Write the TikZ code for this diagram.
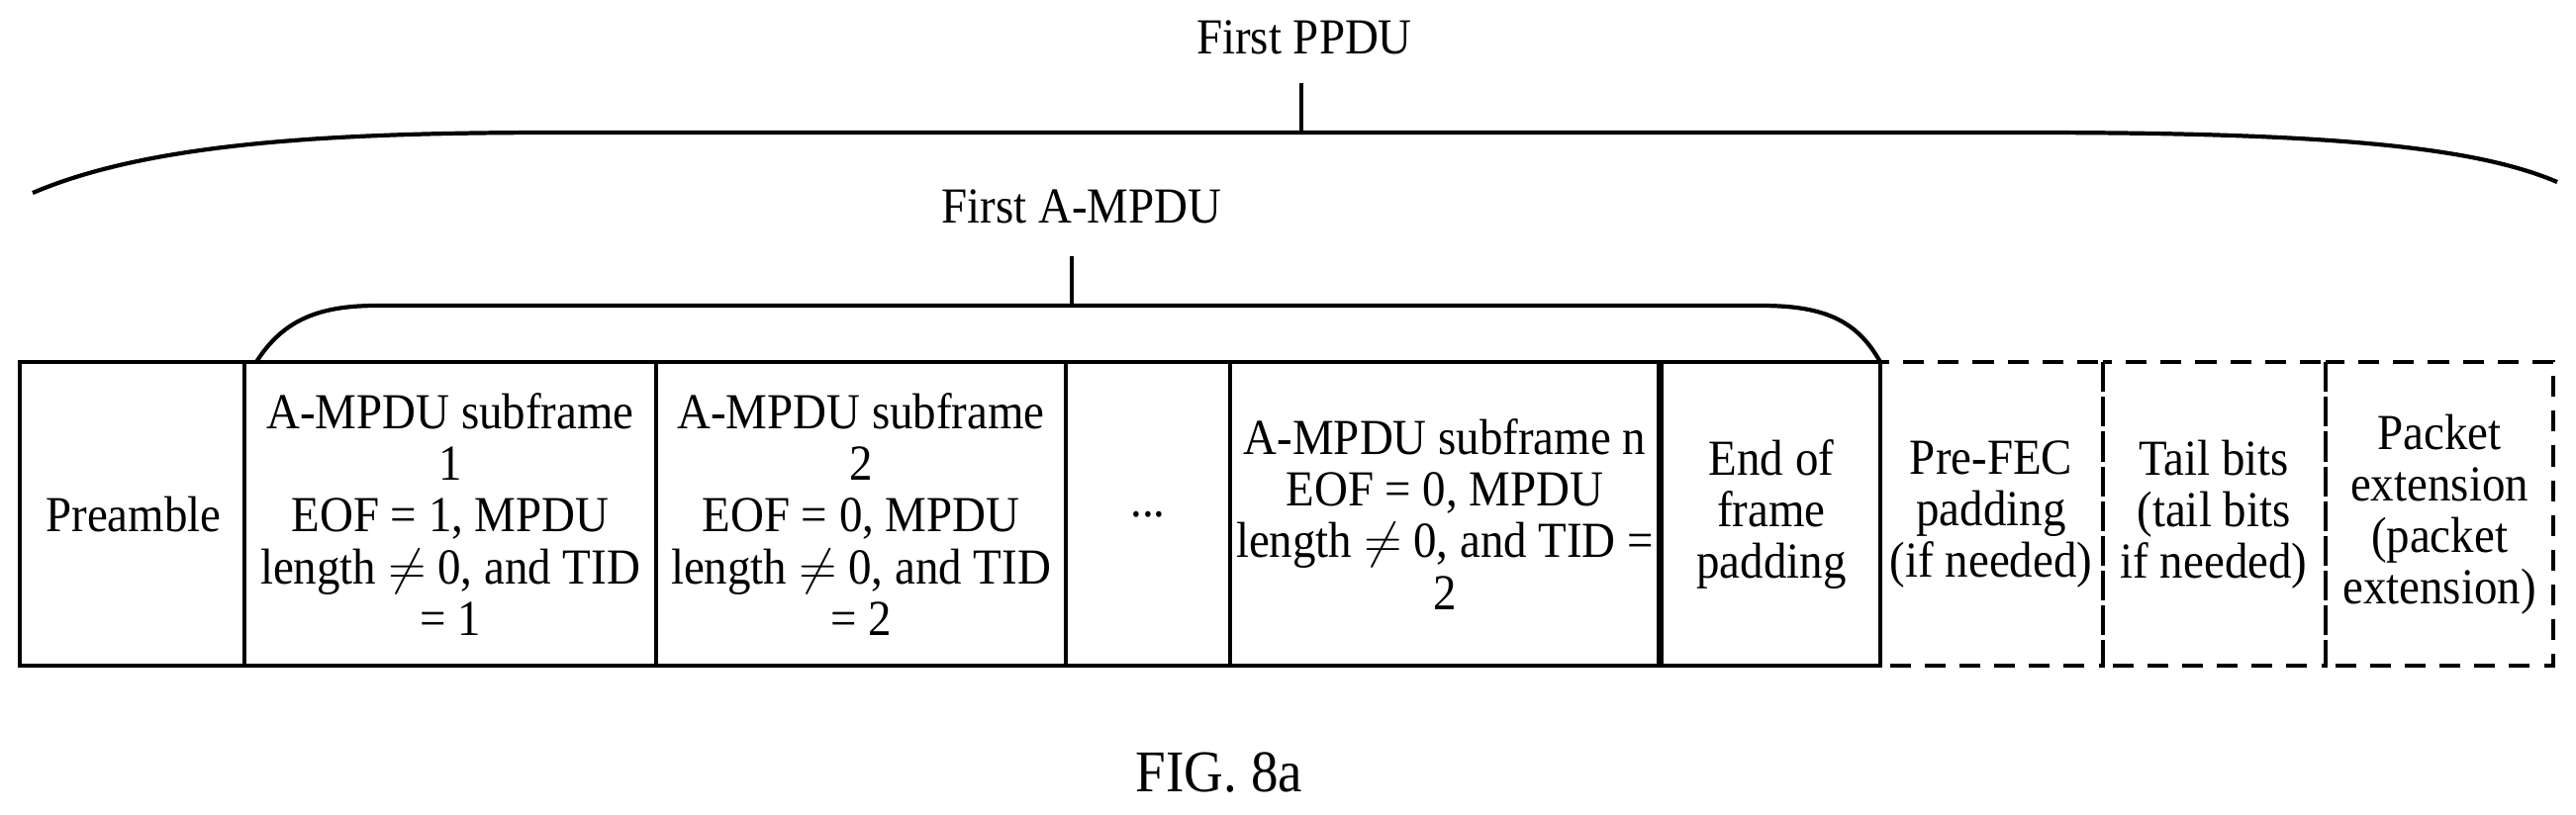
\documentclass[tikz,border=0pt]{standalone}
\usepackage{fontspec}
\setmainfont{Liberation Serif}[FakeStretch=0.92]
\begin{document}
\begin{tikzpicture}[x=0.01cm,y=-0.01cm,
  lbl/.style={align=center,font=\fontsize{14.5}{14.8}\selectfont,inner sep=0},
  solid box/.style={draw,line width=1.2pt},
  dash box/.style={draw,dashed,line width=1.2pt,dash pattern=on 6pt off 4pt},
  br/.style={line width=1.2pt}]
\useasboundingbox (0,0) rectangle (2603,823);
% solid cells
\draw[solid box] (20,366) rectangle (1900,673);
\foreach \x in {247,663,1077,1243}{\draw[line width=1.2pt] (\x,366)--(\x,673);}
\draw[line width=2pt] (1677,366)--(1677,673);
\draw[dash box] (1900,366) rectangle (2125,673);
\draw[dash box] (2125,366) rectangle (2350,673);
\draw[dash box] (2350,366) rectangle (2580,673);
% labels
\node[lbl] (pre) at (135,520) {Preamble};
\node[lbl] (s1) at (455,520) {A-MPDU subframe\\1\\EOF = 1, MPDU\\length $\neq$ 0, and TID\\= 1};
\node[lbl] (s2) at (870,520) {A-MPDU subframe\\2\\EOF = 0, MPDU\\length $\neq$ 0, and TID\\= 2};
\node[lbl] (dots) at (1160,520) {...};
\node[lbl] (sn) at (1460,520) {A-MPDU subframe n\\EOF = 0, MPDU\\length $\neq$ 0, and TID =\\2};
\node[lbl] (eof) at (1790,520) {End of\\frame\\padding};
\node[lbl] (fec) at (2012,520) {Pre-FEC\\padding\\(if needed)};
\node[lbl] (tail) at (2237,520) {Tail bits\\(tail bits\\if needed)};
\node[lbl] (pe) at (2465,520) {Packet\\extension\\(packet\\extension)};
% A-MPDU brace
\coordinate (a1) at (259,366);
\coordinate (a2) at (1900,366);
\draw[br] (a1) .. controls (285,325) and (320,309) .. (380,309) -- (1780,309) .. controls (1845,309) and (1877,325) .. (a2);
\coordinate (at) at (1083,309);
\coordinate (ab) at (1083,259);
\draw[br] (at)--(ab);
\node[lbl] (ampdu) at (1093,209) {First A-MPDU};
% PPDU brace
\coordinate (p1) at (33,195);
\coordinate (p2) at (2584,184);
\draw[br] (p1) .. controls (150,145) and (330,134) .. (560,134) -- (2050,134) .. controls (2350,134) and (2500,148) .. (p2);
\coordinate (pt) at (1315,134);
\coordinate (pb) at (1315,84);
\draw[br] (pt)--(pb);
\node[lbl] (ppdu) at (1318,38) {First PPDU};
\node[lbl] (fig) at (1232,781) {\fontsize{17}{19}\selectfont FIG. 8a};
\end{tikzpicture}
\end{document}
